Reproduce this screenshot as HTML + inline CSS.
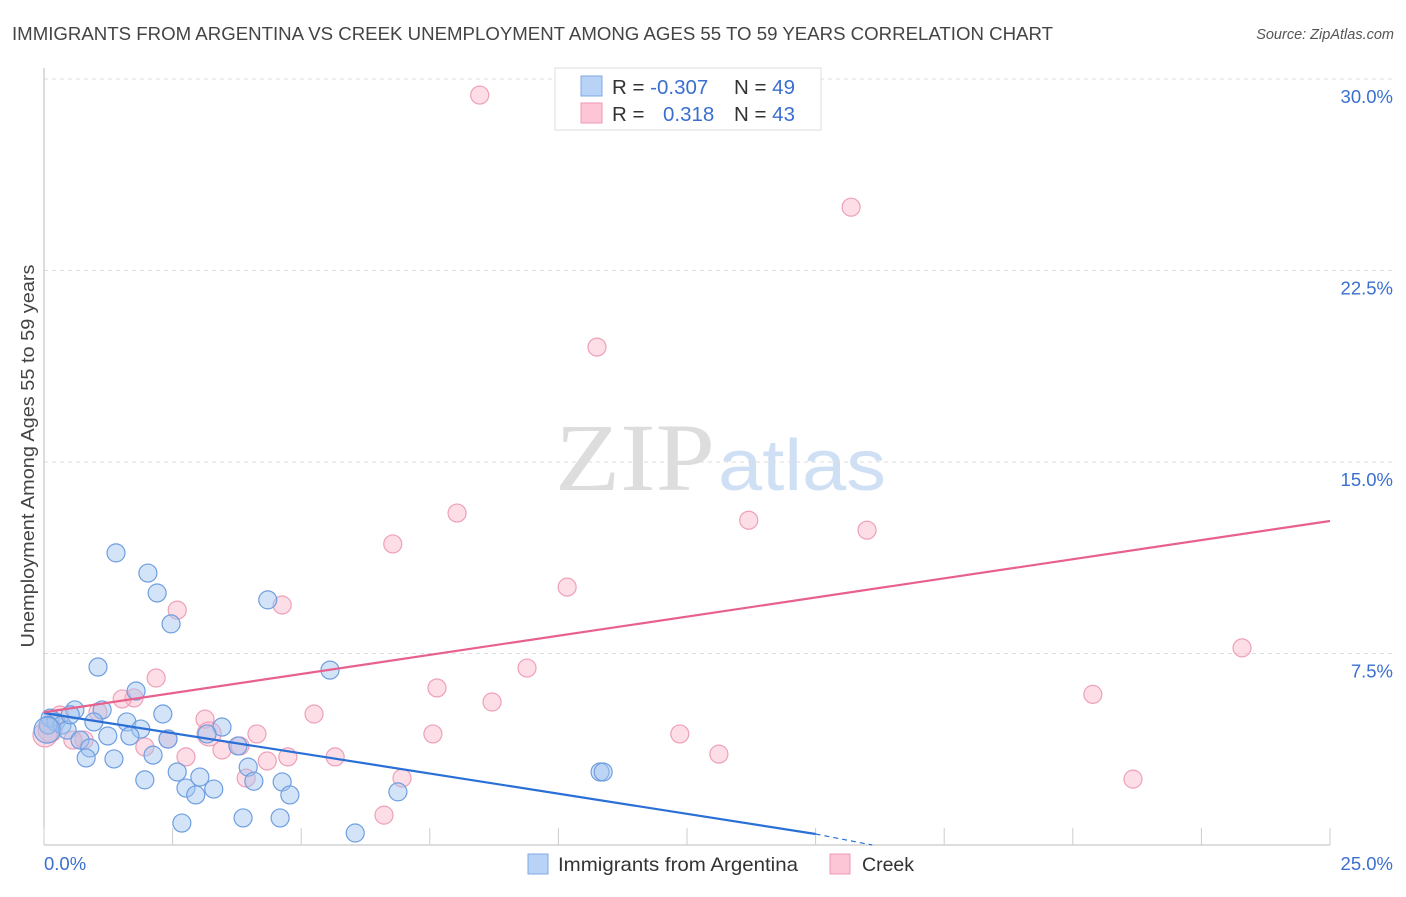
<!DOCTYPE html>
<html><head><meta charset="utf-8"><style>
body{margin:0;background:#fff;font-family:"Liberation Sans",sans-serif;}
</style></head><body>
<svg width="1406" height="892" xmlns="http://www.w3.org/2000/svg" id="chart">
<text x="12" y="40" font-size="18" fill="#444" textLength="1041" lengthAdjust="spacingAndGlyphs">IMMIGRANTS FROM ARGENTINA VS CREEK UNEMPLOYMENT AMONG AGES 55 TO 59 YEARS CORRELATION CHART</text>
<text x="1394" y="39" font-size="14.5" fill="#555" font-style="italic" text-anchor="end">Source: ZipAtlas.com</text>
<text x="555" y="490" font-size="96" fill="#ddd" font-family="Liberation Serif,serif" textLength="160" lengthAdjust="spacingAndGlyphs">ZIP</text>
<text x="718" y="490" font-size="72" fill="#cfe0f5" textLength="168" lengthAdjust="spacingAndGlyphs">atlas</text>
<g id="grid"></g>
<g id="axes"></g>
<text transform="translate(34,456) rotate(-90)" font-size="18" fill="#444" text-anchor="middle" textLength="383" lengthAdjust="spacingAndGlyphs">Unemployment Among Ages 55 to 59 years</text>
<g id="pts"></g>
<g id="trend"></g>
<g>
<rect x="555" y="68" width="266" height="62" fill="#fff" stroke="#ddd"/>
<rect x="581" y="76" width="21" height="20" fill="#b8d3f5" stroke="#7ea8e6"/>
<rect x="581" y="103" width="21" height="20" fill="#fcc6d6" stroke="#ef9ab5"/>
<text x="612" y="94" font-size="20.5" fill="#333">R = <tspan fill="#3a6fd0">-0.307</tspan></text>
<text x="734" y="94" font-size="20.5" fill="#333">N = <tspan fill="#3a6fd0">49</tspan></text>
<text x="612" y="121" font-size="20.5" fill="#333">R = </text>
<text x="663" y="121" font-size="20.5" fill="#3a6fd0">0.318</text>
<text x="734" y="121" font-size="20.5" fill="#333">N = <tspan fill="#3a6fd0">43</tspan></text>
</g>
<g>
<rect x="528" y="854" width="20" height="20" fill="#b8d3f5" stroke="#7ea8e6"/>
<text x="558" y="871" font-size="19.5" fill="#333" textLength="240" lengthAdjust="spacingAndGlyphs">Immigrants from Argentina</text>
<rect x="830" y="854" width="20" height="20" fill="#fcc6d6" stroke="#ef9ab5"/>
<text x="862" y="871" font-size="19.5" fill="#333">Creek</text>
</g>
</svg>
<script>
const yTicks=[7.5,15,22.5,30];
const yTickLabels=["7.5%","15.0%","22.5%","30.0%"];
const xTicks=[0,2.5,5,7.5,10,12.5,15,17.5,20,22.5,25];
const blueX=[0.12,0.23,0.35,0.08,0.45,0.6,0.51,1.13,0.97,0.70,0.89,0.82,1.36,1.24,1.40,2.02,2.2,2.47,1.05,1.79,1.61,1.88,1.67,2.31,2.12,2.41,3.46,3.17,2.59,2.76,3.03,2.95,3.3,1.96,2.68,3.87,3.97,4.08,3.77,4.59,4.63,4.78,4.35,5.56,6.05,6.88,10.81,10.87,0.06];
const blueY=[4.97,4.82,4.7,4.7,4.5,5.29,5.1,5.29,4.82,4.11,3.8,3.41,3.37,4.27,11.44,10.65,9.87,8.66,6.97,6.03,4.82,4.54,4.27,5.13,3.52,4.15,4.62,4.35,2.86,2.23,2.66,1.96,2.19,2.55,0.86,1.06,3.05,2.5,3.88,1.06,2.47,1.96,9.6,6.85,0.47,2.08,2.86,2.86,4.5];
const pinkX=[8.47,15.69,10.75,8.03,6.78,13.7,16.0,10.17,4.63,2.59,23.29,9.39,2.18,7.64,20.39,8.71,1.75,1.52,1.05,0.31,5.25,3.13,4.14,7.56,12.36,2.41,0.78,0.56,1.96,3.46,3.81,4.74,5.66,2.76,13.12,4.34,6.96,3.93,21.17,6.61,0.12,0.02,3.21];
const pinkY=[29.37,24.98,19.5,13.0,11.79,12.72,12.33,10.1,9.4,9.2,7.72,6.93,6.54,6.15,5.9,5.6,5.76,5.72,5.21,5.09,5.13,4.93,4.35,4.35,4.35,4.15,4.11,4.11,3.84,3.72,3.88,3.45,3.45,3.45,3.56,3.29,2.62,2.62,2.58,1.17,4.5,4.31,4.35];
const blueTrend=[[0,5.17],[15,0.43]];
const blueDash=[[15,0.43],[16.1,0]];
const pinkTrend=[[0,5.2],[25,12.69]];
const NS="http://www.w3.org/2000/svg";
const X=v=>44+v/25*1286, Y=v=>845-v/30*766;
function mk(tag,parent,attrs){const e=document.createElementNS(NS,tag);for(const k in attrs)e.setAttribute(k,attrs[k]);document.getElementById(parent).appendChild(e);return e;}
yTicks.forEach((t,i)=>{
 const l=mk('line','grid',{x1:44,x2:1392,y1:Y(t),y2:Y(t),stroke:'#ddd','stroke-dasharray':'4,4'});
 
 
 const tx=mk('text','grid',{x:1393,y:Y(t)+24,'font-size':18.5,fill:'#3a6fd0','text-anchor':'end'});tx.textContent=yTickLabels[i];
 
 
});
mk('line','axes',{x1:44,x2:44,y1:68,y2:845,stroke:'#bbb'});
mk('line','axes',{x1:44,x2:1330,y1:845,y2:845,stroke:'#bbb'});
xTicks.forEach(t=>{const l=mk('line','axes',{x1:X(t),x2:X(t),y1:828,y2:845,stroke:'#ccc'});
 
 });
let a=mk('text','axes',{x:44,y:870,'font-size':18.5,fill:'#3a6fd0'});a.textContent='0.0%';


a=mk('text','axes',{x:1393,y:870,'font-size':18.5,fill:'#3a6fd0','text-anchor':'end'});a.textContent='25.0%';


pinkX.forEach((x,i)=>{const c=mk('circle','pts',{cx:X(x),cy:Y(pinkY[i]),r:i>=40?12:9,fill:'rgba(250,180,200,0.45)',stroke:'#eea0b8','stroke-width':1.2});
 
 });
blueX.forEach((x,i)=>{const c=mk('circle','pts',{cx:X(x),cy:Y(blueY[i]),r:i>=48?13:9,fill:'rgba(160,195,240,0.45)',stroke:'#6e9ee0','stroke-width':1.2});
 
 });
let t=mk('line','trend',{x1:X(blueTrend[0][0]),y1:Y(blueTrend[0][1]),x2:X(blueTrend[1][0]),y2:Y(blueTrend[1][1]),stroke:'#2a6fd6','stroke-width':2.2});


t=mk('line','trend',{x1:X(blueDash[0][0]),y1:Y(blueDash[0][1]),x2:X(blueDash[1][0]),y2:Y(blueDash[1][1]),stroke:'#2a6fd6','stroke-width':1.2,'stroke-dasharray':'5,4'});


t=mk('line','trend',{x1:X(pinkTrend[0][0]),y1:Y(pinkTrend[0][1]),x2:X(pinkTrend[1][0]),y2:Y(pinkTrend[1][1]),stroke:'#e8608c','stroke-width':2.2});


</script>
</body></html>
